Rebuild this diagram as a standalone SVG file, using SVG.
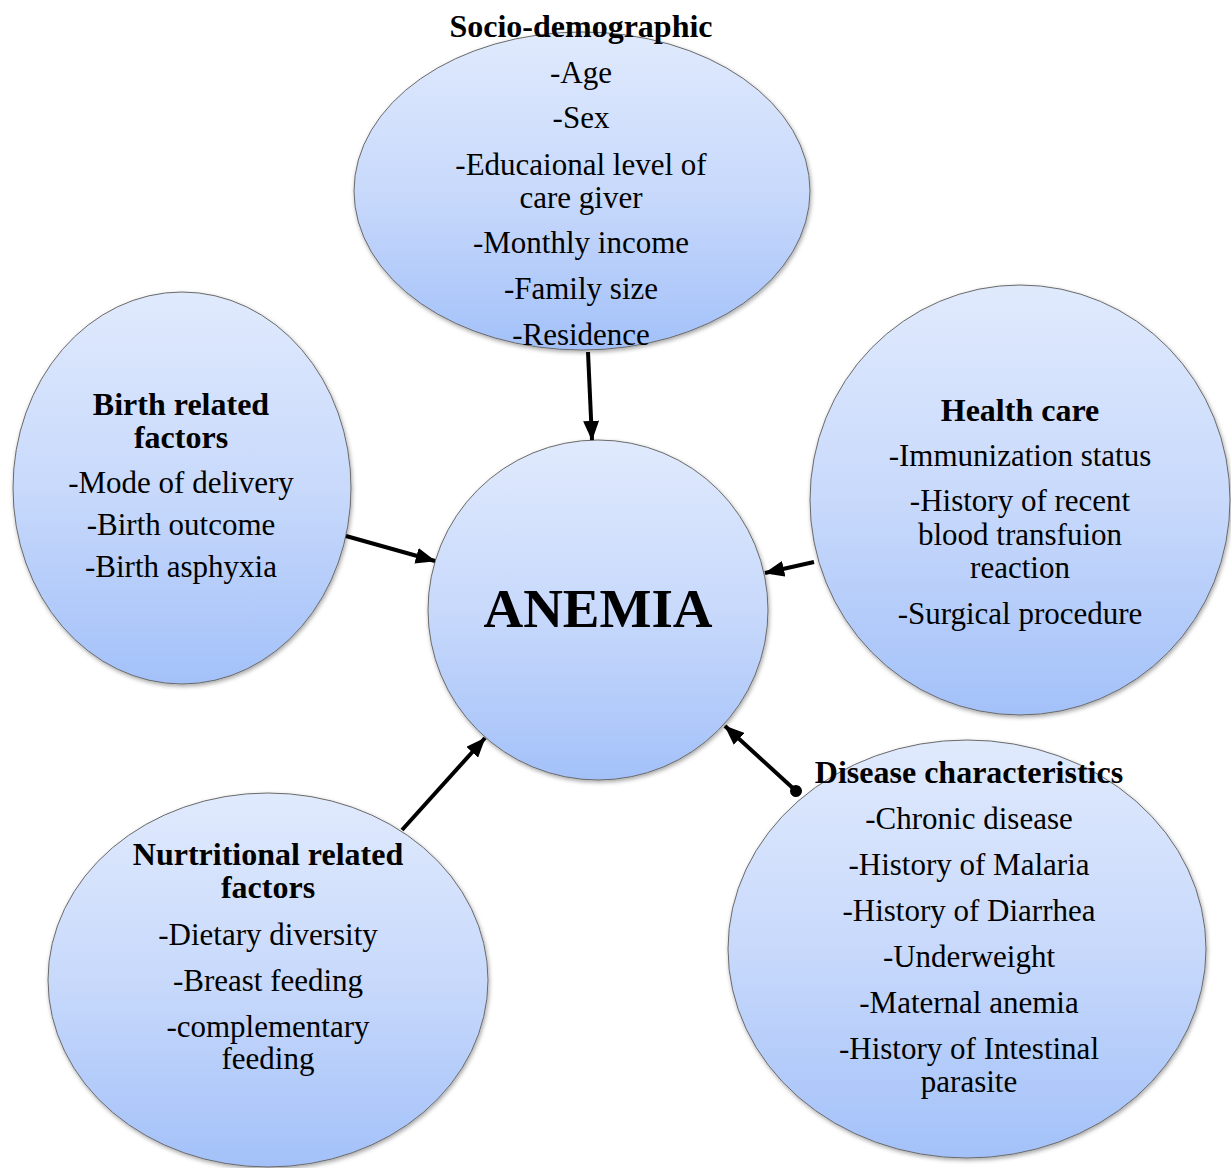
<svg xmlns="http://www.w3.org/2000/svg" width="1231" height="1168" viewBox="0 0 1231 1168">
  <style>
    .node ellipse { fill: url(#blueGrad); stroke: #6a6a6a; stroke-width: 1; filter: url(#shadow); }
    .t { font-family: "Liberation Serif", "Times New Roman", serif; font-size: 31px; fill: #000; text-anchor: middle; }
    .b { font-weight: bold; font-size: 32px; }
    .big { font-family: "Liberation Serif", "Times New Roman", serif; font-size: 55px; font-weight: bold; fill: #000; text-anchor: middle; }
    .conn line { stroke: #000; stroke-width: 4; fill: none; }
  </style>
  <defs>
    <linearGradient id="blueGrad" x1="0" y1="0" x2="0" y2="1">
      <stop offset="0" stop-color="#e0eafd"/>
      <stop offset="0.5" stop-color="#c8d9fb"/>
      <stop offset="1" stop-color="#a3c1f9"/>
    </linearGradient>
    <filter id="shadow" x="-10%" y="-10%" width="120%" height="120%">
      <feDropShadow dx="1" dy="2" stdDeviation="2" flood-color="#000" flood-opacity="0.35"/>
    </filter>
    <marker id="arrow" viewBox="0 0 5 4" refX="4.8" refY="2" markerWidth="5" markerHeight="4" orient="auto" markerUnits="strokeWidth">
      <path d="M0,0 L5,2 L0,4 z" fill="#000"/>
    </marker>
    <marker id="dot" viewBox="0 0 4 4" refX="2" refY="2" markerWidth="3" markerHeight="3" orient="auto" markerUnits="strokeWidth">
      <circle cx="2" cy="2" r="2" fill="#000"/>
    </marker>
  </defs>
  <rect width="1231" height="1168" fill="#fff"/>

  <g id="node-socio" class="node">
    <ellipse cx="582" cy="191" rx="228" ry="159"/>
    <text class="t b" x="581" y="37">Socio-demographic</text>
    <text class="t" x="581" y="83">-Age</text>
    <text class="t" x="581" y="128">-Sex</text>
    <text class="t" x="581" y="175">-Educaional level of</text>
    <text class="t" x="581" y="208">care giver</text>
    <text class="t" x="581" y="253">-Monthly income</text>
    <text class="t" x="581" y="299">-Family size</text>
    <text class="t" x="581" y="345">-Residence</text>
  </g>

  <g id="node-birth" class="node">
    <ellipse cx="182" cy="488" rx="169" ry="196"/>
    <text class="t b" x="181" y="415">Birth related</text>
    <text class="t b" x="181" y="448">factors</text>
    <text class="t" x="181" y="493">-Mode of delivery</text>
    <text class="t" x="181" y="535">-Birth outcome</text>
    <text class="t" x="181" y="577">-Birth asphyxia</text>
  </g>

  <g id="node-health" class="node">
    <ellipse cx="1020" cy="500" rx="210" ry="215"/>
    <text class="t b" x="1020" y="421">Health care</text>
    <text class="t" x="1020" y="466">-Immunization status</text>
    <text class="t" x="1020" y="511">-History of recent</text>
    <text class="t" x="1020" y="545">blood transfuion</text>
    <text class="t" x="1020" y="578">reaction</text>
    <text class="t" x="1020" y="624">-Surgical procedure</text>
  </g>

  <g id="node-nutrition" class="node">
    <ellipse cx="268" cy="980" rx="220" ry="187"/>
    <text class="t b" x="268" y="865">Nurtritional related</text>
    <text class="t b" x="268" y="898">factors</text>
    <text class="t" x="268" y="945">-Dietary diversity</text>
    <text class="t" x="268" y="991">-Breast feeding</text>
    <text class="t" x="268" y="1037">-complementary</text>
    <text class="t" x="268" y="1069">feeding</text>
  </g>

  <g id="node-disease" class="node">
    <ellipse cx="967" cy="949" rx="239" ry="209"/>
    <text class="t b" x="969" y="783">Disease characteristics</text>
    <text class="t" x="969" y="829">-Chronic disease</text>
    <text class="t" x="969" y="875">-History of Malaria</text>
    <text class="t" x="969" y="921">-History of Diarrhea</text>
    <text class="t" x="969" y="967">-Underweight</text>
    <text class="t" x="969" y="1013">-Maternal anemia</text>
    <text class="t" x="969" y="1059">-History of Intestinal</text>
    <text class="t" x="969" y="1092">parasite</text>
  </g>

  <g id="node-anemia" class="node">
    <ellipse cx="598" cy="610" rx="170" ry="170"/>
    <text class="big" x="598" y="627">ANEMIA</text>
  </g>

  <g id="connectors" class="conn">
    <line x1="588" y1="352" x2="592" y2="440" marker-end="url(#arrow)"/>
    <line x1="346" y1="536" x2="435" y2="561" marker-end="url(#arrow)"/>
    <line x1="814" y1="562" x2="765" y2="573" marker-end="url(#arrow)"/>
    <line x1="402" y1="830" x2="485" y2="738" marker-end="url(#arrow)"/>
    <line x1="796" y1="791" x2="725" y2="726" marker-start="url(#dot)" marker-end="url(#arrow)"/>
  </g>
</svg>
